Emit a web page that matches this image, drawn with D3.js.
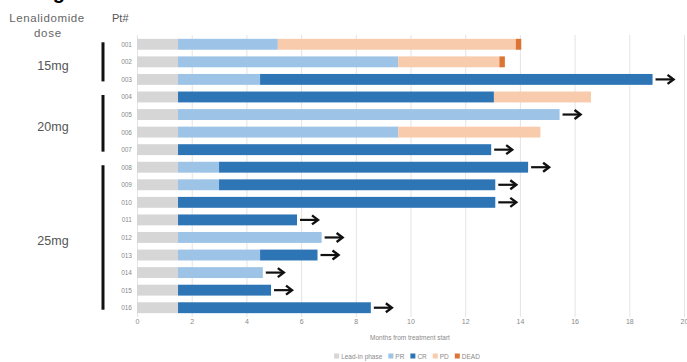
<!DOCTYPE html>
<html>
<head>
<meta charset="utf-8">
<script src="https://cdn.jsdelivr.net/npm/d3@7/dist/d3.min.js"></script>
<style>
  html, body { margin: 0; padding: 0; background: #fff; }
  svg { display: block; font-family: "Liberation Sans", Arial, sans-serif; }
</style>
</head>
<body>
<svg id="chart" width="687" height="362"></svg>
<script>
// ---- data ----
const patients = ["001","002","003","004","005","006","007","008","009","010","011","012","013","014","015","016"];
const leadInEnd = [1.5,1.5,1.5,1.5,1.5,1.5,1.5,1.5,1.5,1.5,1.5,1.5,1.5,1.5,1.5,1.5];
const prEnd     = [5.15,9.55,4.5,1.5,15.45,9.55,1.5,3.0,3.0,1.5,1.5,6.75,4.5,4.6,1.5,1.5];
const crEnd     = [5.15,9.55,18.85,13.05,15.45,9.55,12.95,14.3,13.1,13.1,5.85,6.75,6.6,4.6,4.9,8.55];
const pdEnd     = [13.85,13.25,18.85,16.6,15.45,14.75,12.95,14.3,13.1,13.1,5.85,6.75,6.6,4.6,4.9,8.55];
const deadEnd   = [14.05,13.45,18.85,16.6,15.45,14.75,12.95,14.3,13.1,13.1,5.85,6.75,6.6,4.6,4.9,8.55];
const ongoing   = [0,0,1,0,1,0,1,1,1,1,1,1,1,1,1,1];
const doseGroups = ["15mg","20mg","25mg"];
const groupFirst = ["001","004","008"];
const groupLast  = ["003","007","016"];
const xTicks = [0,2,4,6,8,10,12,14,16,18,20];
const legendLabels = ["Lead-in phase","PR","CR","PD","DEAD"];
const statusColors = ["#d6d6d6","#9dc3e6","#2e75b6","#f8cbad","#dc7433"];

// ---- scales ----
const svg = d3.select("#chart");
const x = d3.scaleLinear().domain([0,20]).range([137,684]);
const y = d3.scaleBand().domain(patients).range([35.5,316.5]).paddingInner(0.38).paddingOuter(0.19);

// cut-off title fragment at top
svg.append("text").attr("x",35).attr("y",-1).attr("font-size",20).attr("font-weight","bold")
  .attr("fill","#000").text("Figure");

// gridlines
svg.append("g").selectAll("line").data(xTicks).join("line")
  .attr("x1",d=>x(d)+0.5).attr("x2",d=>x(d)+0.5)
  .attr("y1",35).attr("y2",317)
  .attr("stroke","#e4e4e4").attr("stroke-width",1);

// segments
const segs = [];
patients.forEach((p,i)=>{
  const bounds = [0, leadInEnd[i], prEnd[i], crEnd[i], pdEnd[i], deadEnd[i]];
  for (let k=0;k<5;k++){
    if (bounds[k+1] > bounds[k]) segs.push({p, x0:bounds[k], x1:bounds[k+1], k});
  }
});
svg.append("g").selectAll("rect").data(segs).join("rect")
  .attr("x",d=>x(d.x0)).attr("width",d=>x(d.x1)-x(d.x0))
  .attr("y",d=>y(d.p)).attr("height",y.bandwidth())
  .attr("fill",d=>statusColors[d.k]);

// arrows for ongoing
const arrowG = svg.append("g");
patients.forEach((p,i)=>{
  if (!ongoing[i]) return;
  const x0 = x(deadEnd[i]) + 3, x1 = x0 + 18;
  const cy = y(p) + y.bandwidth()/2;
  arrowG.append("line").attr("x1",x0).attr("x2",x1-1).attr("y1",cy).attr("y2",cy)
    .attr("stroke","#111").attr("stroke-width",2.2);
  arrowG.append("path")
    .attr("d",`M${x1-6},${cy-4.5} L${x1},${cy} L${x1-6},${cy+4.5}`)
    .attr("fill","none").attr("stroke","#111").attr("stroke-width",2.4)
    .attr("stroke-linejoin","miter");
});

// row labels
svg.append("g").selectAll("text").data(patients).join("text")
  .attr("x",132).attr("y",d=>y(d)+y.bandwidth()/2)
  .attr("dominant-baseline","central").attr("text-anchor","end")
  .attr("font-size",6.5).attr("fill","#8a8a8a").text(d=>d);

// headers
svg.append("text").attr("x",47).attr("y",18).attr("text-anchor","middle")
  .attr("dominant-baseline","central").attr("font-size",11.5).attr("letter-spacing",0.6)
  .attr("fill","#666").text("Lenalidomide");
svg.append("text").attr("x",48).attr("y",33).attr("text-anchor","middle")
  .attr("dominant-baseline","central").attr("font-size",11.5).attr("letter-spacing",0.8)
  .attr("fill","#666").text("dose");
svg.append("text").attr("x",112).attr("y",18)
  .attr("dominant-baseline","central").attr("font-size",11).attr("fill","#555").text("Pt#");

// dose group brackets and labels
doseGroups.forEach((g,i)=>{
  const top = y(groupFirst[i]) + y.bandwidth()/2 - 2;
  const bot = y(groupLast[i]) + y.bandwidth()/2 + 2;
  svg.append("line").attr("x1",103).attr("x2",103).attr("y1",top).attr("y2",bot)
    .attr("stroke","#111").attr("stroke-width",3);
  svg.append("text").attr("x",53).attr("y",(top+bot)/2+4)
    .attr("text-anchor","middle").attr("dominant-baseline","central")
    .attr("font-size",12.5).attr("fill","#555").text(g);
});

// x axis labels
const xAxis = d3.axisBottom(x).tickValues(xTicks).tickSize(0).tickPadding(0);
const ax = svg.append("g").attr("transform","translate(0,319)").call(xAxis);
ax.select(".domain").remove();
ax.selectAll("text").attr("font-size",7).attr("fill","#8a8a8a").attr("font-family","Liberation Sans, Arial, sans-serif");

svg.append("text").attr("x",410).attr("y",337).attr("text-anchor","middle")
  .attr("dominant-baseline","central").attr("font-size",6.5).attr("fill","#8a8a8a")
  .text("Months from treatment start");

// legend
const lg = svg.append("g");
let cx = 0;
legendLabels.forEach((l,i)=>{
  const g = lg.append("g").attr("transform",`translate(${cx},0)`);
  g.append("rect").attr("x",0).attr("y",-2.5).attr("width",5).attr("height",5).attr("fill",statusColors[i]);
  const t = g.append("text").attr("x",7).attr("y",0).attr("dominant-baseline","central")
    .attr("font-size",6.5).attr("fill","#8a8a8a").text(l);
  cx += 7 + t.node().getComputedTextLength() + 6;
});
const totalW = cx - 6;
lg.attr("transform",`translate(${407 - totalW/2},356)`);
</script>
</body>
</html>
